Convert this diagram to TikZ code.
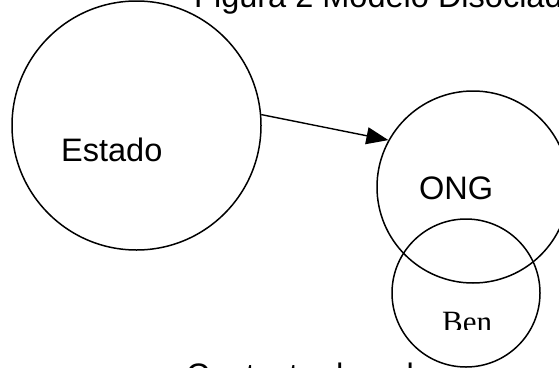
\documentclass[tikz,border=0pt]{standalone}
\usepackage{fontspec}
\setmainfont{Liberation Sans}
\newfontfamily\benfont{Liberation Serif}
\usetikzlibrary{arrows.meta}
\begin{document}
\begin{tikzpicture}[x=1pt,y=-1pt,
  ring/.style={circle,draw=black,line width=1.5pt,inner sep=0pt},
  lbl/.style={anchor=base west,inner sep=0pt,font=\fontsize{32.5}{37}\selectfont},
  arr/.style={line width=1.4pt,-{Triangle[length=22pt,width=17pt]}}]
\useasboundingbox (0,0) rectangle (559,367);
% texts under the circles
\node[lbl] (titulo) at (194,7) {Figura 2 Modelo Disociado};
\node[lbl] (contexto) at (186,386) {Contexto de pobreza};
% circles
\node[ring,fill=white,minimum size=148pt] (benc) at (466,293) {};
\node[ring,minimum size=249pt] (estadoc) at (136.5,125.5) {};
\node[ring,minimum size=192pt] (ongc) at (473,187) {};
% labels
\node[lbl] (estado) at (61,161) {Estado};
\node[lbl] (ong) at (419,199) {ONG};
\begin{scope}
\clip (380,290) rectangle (550,329);
\node[anchor=base west,inner sep=0pt,font=\benfont\fontsize{31}{34}\selectfont] (ben) at (442,332) {Ben};
\end{scope}
% connector
\draw[arr] (estadoc.5.7) -- (ongc.151.5);
\end{tikzpicture}
\end{document}
